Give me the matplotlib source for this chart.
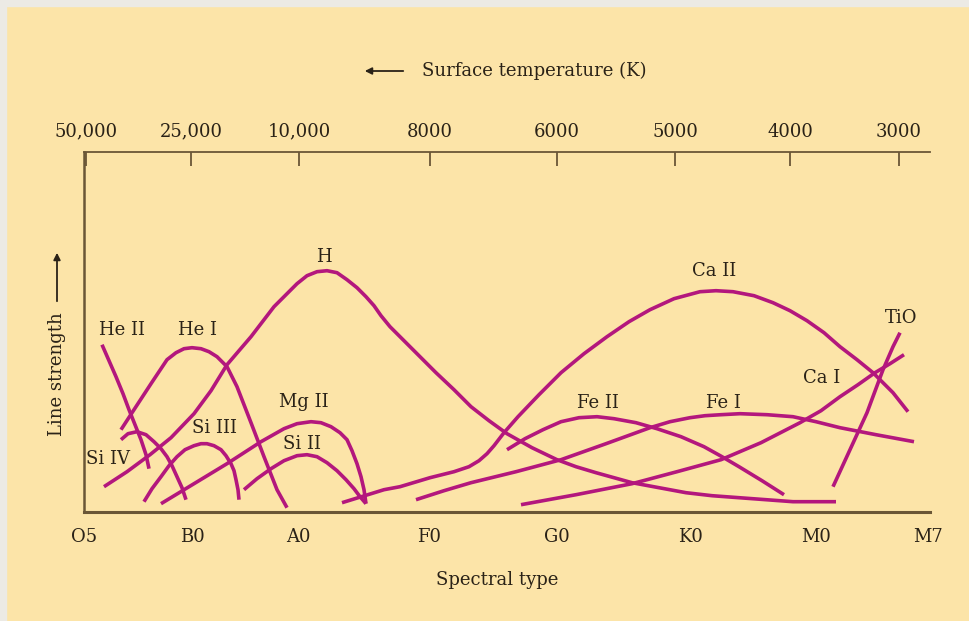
import matplotlib
matplotlib.use("Agg")
import matplotlib.pyplot as plt
from matplotlib.patches import Rectangle

# positions along the spectral axis (0 = O5 at the left spine), strength = height above baseline
spec_labels = ['O5', 'B0', 'A0', 'F0', 'G0', 'K0', 'M0', 'M7']
spec_pos = [0, 108, 214, 345, 473, 606, 732, 844]

temp_labels = ['50,000', '25,000', '10,000', '8000', '6000', '5000', '4000', '3000']
temp_pos = [2, 107, 215, 346, 473, 591, 706, 815]

he2_x = [18, 25, 32, 39, 45, 51, 57, 62, 65]
he2_y = [167, 151, 135, 118, 102, 87, 72, 57, 43]

he1_x = [37, 50, 67, 83, 92, 100, 108, 117, 125, 133, 143, 153, 160, 167,
         180, 193, 203]
he1_y = [82, 102, 128, 152, 159, 163, 164, 163, 160, 155, 145, 125, 107, 89,
         55, 22, 4]

h_x = [20, 43, 66, 87, 110, 127, 143, 167, 190, 203, 213, 223, 233, 243, 253,
       263, 273, 282, 290, 297, 306, 316, 334, 352, 370, 387, 405, 423, 448,
       473, 492, 512, 548, 575, 602, 628, 655, 682, 709, 752]
h_y = [25, 40, 57, 74, 98, 121, 147, 175, 205, 218, 228, 236, 240, 241, 239,
       232, 224, 215, 206, 196, 185, 175, 157, 139, 122, 105, 91, 78, 64, 52,
       45, 39, 29, 24, 19, 16, 14, 12, 10, 10]

si4_x = [37, 44, 53, 62, 70, 77, 83, 88, 93, 98, 102]
si4_y = [72, 78, 80, 77, 70, 63, 55, 46, 35, 24, 12]

si3_x = [60, 68, 77, 85, 93, 101, 110, 117, 123, 130, 137, 142, 147, 150,
         152, 154, 155]
si3_y = [10, 23, 35, 46, 55, 62, 66, 68, 68, 66, 62, 56, 48, 41, 32, 22, 12]

mg2_x = [77, 110, 143, 177, 200, 213, 227, 237, 247, 256, 263, 268, 273, 277,
         280, 282]
mg2_y = [8, 28, 48, 70, 83, 88, 90, 89, 85, 79, 72, 61, 48, 35, 22, 8]

si2_x = [160, 173, 187, 200, 213, 223, 233, 243, 253, 262, 270, 276, 282]
si2_y = [22, 33, 43, 51, 56, 57, 55, 49, 41, 32, 23, 15, 8]

ca2_x = [258, 300, 316, 346, 370, 385, 395, 403, 410, 420, 434, 455, 477,
         500, 523, 545, 566, 590, 616, 632, 649, 670, 689, 706, 723, 740, 756,
         773, 789, 809, 824]
ca2_y = [9, 22, 25, 34, 40, 45, 51, 58, 66, 79, 95, 117, 139, 158, 175, 190,
         202, 213, 220, 221, 220, 216, 209, 201, 191, 179, 165, 152, 139, 119,
         100]

fe2_x = [423, 441, 459, 477, 495, 513, 530, 552, 573, 597, 620, 638, 655, 678,
         700]
fe2_y = [62, 73, 82, 90, 94, 95, 93, 89, 83, 75, 65, 55, 45, 31, 17]

fe1_x = [332, 360, 387, 432, 477, 522, 566, 586, 606, 621, 637, 656, 683,
         709, 732, 756, 792, 830]
fe1_y = [12, 21, 29, 40, 52, 68, 84, 90, 94, 96, 97, 98, 97, 95, 90, 84, 77,
         70]

ca1_x = [437, 492, 548, 593, 637, 677, 716, 737, 756, 774, 791, 806, 820]
ca1_y = [7, 17, 28, 40, 52, 69, 89, 101, 115, 127, 139, 148, 157]

tio_x = [749, 766, 783, 799, 809, 816]
tio_y = [25, 62, 99, 142, 165, 179]

curves = [(he2_x, he2_y), (he1_x, he1_y), (h_x, h_y), (si4_x, si4_y),
          (si3_x, si3_y), (mg2_x, mg2_y), (si2_x, si2_y), (ca2_x, ca2_y),
          (fe2_x, fe2_y), (fe1_x, fe1_y), (ca1_x, ca1_y), (tio_x, tio_y)]

# label text and where it sits
names = ['He II', 'He I', 'H', 'Si IV', 'Si III', 'Mg II', 'Si II',
         'Ca II', 'Fe II', 'Fe I', 'Ca I', 'TiO']
name_x = [38, 113, 240, 24, 130, 220, 218, 630, 514, 639, 738, 817]
name_y = [182, 182, 255, 53, 84, 110, 68, 241, 109, 109, 134, 194]

BG = '#FCE4A8'
LINE = '#B3177D'
AXC = '#6A5636'
TXT = '#2A2217'
FONT = 'DejaVu Serif'

fig = plt.figure(figsize=(9.69, 6.21), dpi=100, facecolor=BG)
# thin grey frame at the top and left edge
fig.patches.append(Rectangle((0, 0.990), 1, 0.010, transform=fig.transFigure,
                             color='#ECEAE5', zorder=0))
fig.patches.append(Rectangle((0, 0), 0.006, 1, transform=fig.transFigure,
                             color='#ECEAE5', zorder=0))

ax = fig.add_axes([84 / 969, 109.3 / 621, 846 / 969, 360 / 621])
ax.set_facecolor(BG)
ax.set_xlim(0, 846)
ax.set_ylim(0, 360)

for cx, cy in curves:
    ax.plot(cx, cy, color=LINE, lw=2.6, solid_joinstyle='round',
            solid_capstyle='butt', clip_on=False)

for n, tx, ty in zip(names, name_x, name_y):
    ax.text(tx, ty, n, ha='center', va='center', fontsize=13,
            family=FONT, color=TXT)

ax.spines['right'].set_visible(False)
ax.spines['bottom'].set_color(AXC)
ax.spines['bottom'].set_linewidth(2.2)
ax.spines['left'].set_color(AXC)
ax.spines['left'].set_linewidth(1.8)
ax.spines['top'].set_color(AXC)
ax.spines['top'].set_linewidth(1.3)

ax.set_yticks([])
ax.set_xticks(spec_pos)
ax.set_xticklabels(spec_labels, family=FONT, fontsize=13, color=TXT)
ax.tick_params(axis='x', which='major', length=0, pad=12)
ax.set_xticks(spec_pos[1:-1], minor=True)
ax.tick_params(axis='x', which='minor', direction='in', length=6,
               width=1.1, color=TXT)

top = ax.twiny()
top.set_xlim(0, 846)
for s in ['right', 'left', 'bottom', 'top']:
    top.spines[s].set_visible(False)
top.set_xticks(temp_pos)
top.set_xticklabels(temp_labels, family=FONT, fontsize=13, color=TXT)
top.tick_params(axis='x', direction='in', length=10, width=1.3,
                color=AXC, pad=8)

fig.text(497 / 969, 1 - 580 / 621, 'Spectral type', ha='center', va='center',
         family=FONT, fontsize=13, color=TXT)
fig.text(534 / 969, 1 - 71 / 621, 'Surface temperature (K)', ha='center',
         va='center', family=FONT, fontsize=13, color=TXT)
fig.text(57 / 969, 1 - 374 / 621, 'Line strength', ha='center', va='center',
         rotation=90, family=FONT, fontsize=13, color=TXT)

# the two little arrows next to the axis titles
ax.annotate('', xy=(362, 621 - 71), xytext=(406, 621 - 71),
            xycoords='figure pixels', textcoords='figure pixels',
            arrowprops=dict(arrowstyle='-|>', color=TXT, lw=1.3,
                            mutation_scale=10))
ax.annotate('', xy=(57, 621 - 250), xytext=(57, 621 - 304),
            xycoords='figure pixels', textcoords='figure pixels',
            arrowprops=dict(arrowstyle='-|>', color=TXT, lw=1.3,
                            mutation_scale=10))

fig.savefig('out.png', dpi=100, facecolor=BG)
